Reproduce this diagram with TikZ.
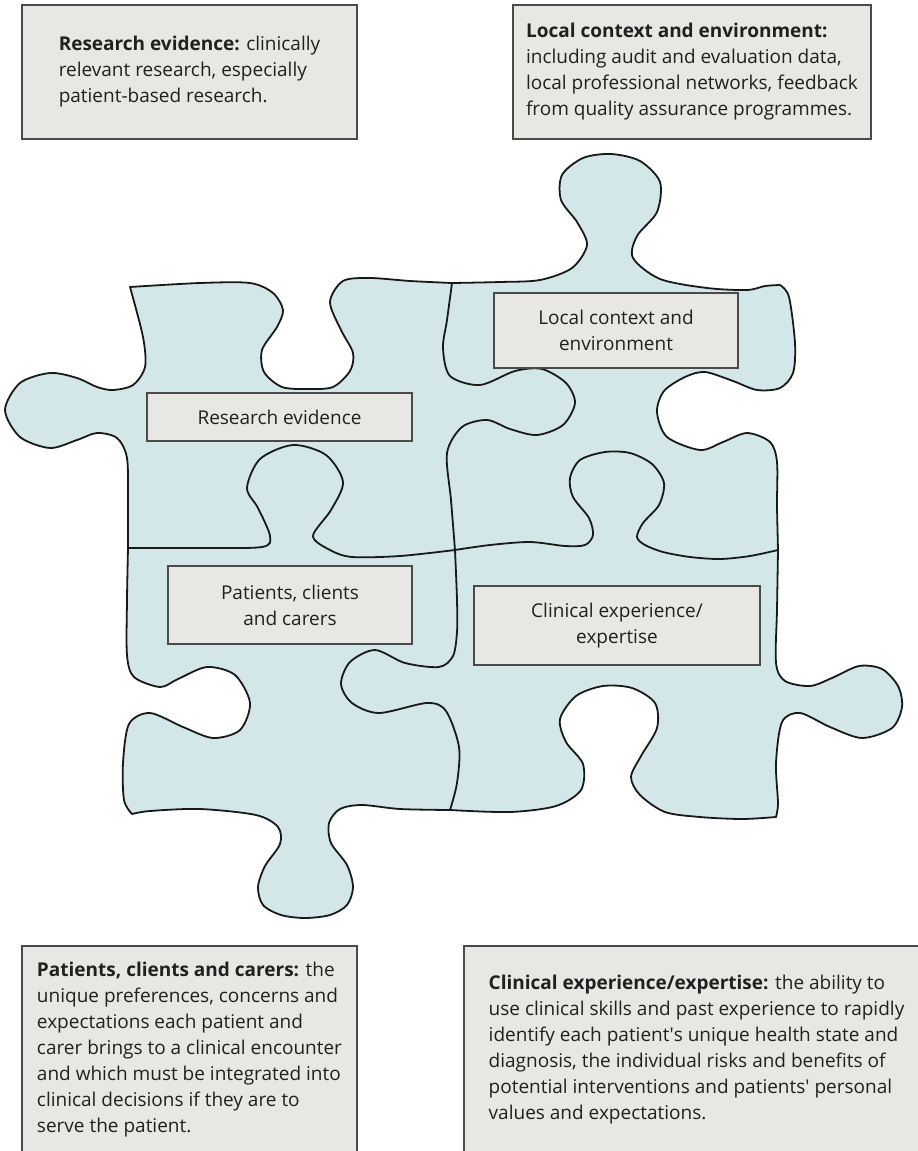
\documentclass[tikz,border=0pt]{standalone}
\usepackage{fontspec}
\setmainfont{Open Sans}
\usepackage{tikz}
\usetikzlibrary{positioning}

\definecolor{piecefill}{HTML}{D3E7E8}
\definecolor{boxfill}{HTML}{E7E8E4}
\definecolor{boxline}{HTML}{4A4A4A}
\definecolor{inktext}{HTML}{231F20}

\tikzset{
  piece/.style={fill=piecefill, draw=black!90, line width=1.8pt, line join=round},
  seam/.style={draw=black!90, line width=1.8pt, line cap=round},
  infobox/.style={draw=boxline, fill=boxfill, line width=1.3pt, align=left,
    text=inktext, inner sep=0pt, font=\fontsize{19}{26}\selectfont},
  tag/.style={draw=boxline, fill=boxfill, line width=1.3pt, align=center,
    text=inktext, inner sep=0pt, font=\fontsize{19}{26}\selectfont},
}

\begin{document}
\begin{tikzpicture}[x=1pt,y=-1pt]
\useasboundingbox (0,0) rectangle (918,1151);

% outline of the four pieces together
\filldraw[piece]
  plot[smooth] coordinates {(130,287) (200,283) (250,283) (273,293) (283,310) (277,327) (262,350) (264,372) (282,387) (308,389) (333,387) (350,371) (353,353) (341,330) (330,302) (343,281) (370,278) (410,281) (452,283)}
  -- plot[smooth] coordinates {(452,283) (500,282) (540,280) (572,268) (587,245) (577,222) (561,200) (562,175) (583,158) (611,154) (640,161) (660,182) (657,212) (637,236) (633,258) (660,279) (707,288) (747,290) (765,286) (780,285)}
  -- plot[smooth] coordinates {(780,285) (789,297) (795,343) (793,373) (780,388) (757,390) (733,381) (705,372) (685,377) (664,391) (657,412) (667,437) (700,450) (723,442) (747,433) (770,442) (777,462) (777,505) (778,550)}
  -- plot[smooth] coordinates {(778,550) (777,610) (776,663) (785,681) (810,686) (832,678) (859,666) (882,669) (898,686) (902,707) (892,728) (862,738) (830,727) (800,713) (782,722) (776,763) (778,803) (776,817)}
  -- plot[smooth] coordinates {(776,817) (742,819) (700,817) (665,812) (640,795) (631,777) (641,756) (657,728) (655,703) (632,688) (603,686) (576,696) (560,719) (566,742) (583,764) (581,790) (556,806) (510,812) (450,810)}
  -- plot[smooth] coordinates {(450,810) (400,809) (362,805) (340,809) (329,823) (331,843) (347,865) (353,887) (347,905) (330,915) (305,918) (281,915) (263,905) (258,887) (265,866) (280,844) (278,827) (256,815) (200,809) (150,811) (132,814)}
  -- plot[smooth] coordinates {(132,814) (124,800) (123,763) (129,724) (150,713) (183,727) (213,738) (240,730) (250,703) (235,675) (207,667) (178,679) (160,687) (134,677) (127,655) (127,600) (128,548)}
  -- plot[smooth] coordinates {(128,548) (128,503) (127,458) (117,438) (97,433) (77,440) (50,448) (20,437) (5,410) (20,383) (50,373) (77,378) (97,387) (113,390) (133,385) (145,367) (143,337) (130,287)}
  -- cycle;

% seams between the pieces
\draw[seam] plot[smooth] coordinates {(128,548) (200,548) (262,547) (270,536) (258,508) (247,488) (260,459) (293,445) (326,455) (343,482) (331,510) (313,536) (330,550) (352,557) (400,556) (455,550)};
\draw[seam] plot[smooth] coordinates {(452,283) (447,320) (443,348) (450,376) (480,385) (515,371) (542,369) (566,383) (575,403) (563,425) (537,435) (510,429) (487,420) (462,427) (447,453) (451,500) (455,550)};
\draw[seam] plot[smooth] coordinates {(455,550) (490,545) (530,542) (565,546) (585,545) (593,535) (589,518) (573,497) (570,478) (580,460) (605,452) (630,453) (652,464) (664,483) (659,505) (643,523) (637,537) (645,545) (663,552) (690,557) (720,559) (750,556) (778,550)};
\draw[seam] plot[smooth] coordinates {(455,550) (457,600) (457,632) (453,656) (439,667) (405,663) (375,650) (350,662) (341,684) (352,703) (379,713) (427,703) (446,711) (459,747) (457,783) (450,810)};

% labels on the pieces
\node[tag, minimum width=265pt, minimum height=48pt] (researchtag) at (279.5,417) {Research evidence};
\node[tag, minimum width=244pt, minimum height=75pt] (localtag) at (616,330.5) {Local context and\\environment};
\node[tag, minimum width=244pt, minimum height=78pt] (patienttag) at (290,605) {Patients, clients\\and carers};
\node[tag, minimum width=286pt, minimum height=79pt] (clinicaltag) at (617,625.5) {Clinical experience/\\expertise};

% explanation boxes
\node[infobox, minimum width=335pt, minimum height=134pt] (researchinfo) at (189.5,72)
  {\textbf{Research evidence:} clinically\\relevant research, especially\\patient-based research.};
\node[infobox, minimum width=358pt, minimum height=134pt] (localinfo) at (692,72)
  {\textbf{Local context and environment:}\\including audit and evaluation data,\\local professional networks, feedback\\from quality assurance programmes.};
\node[infobox, minimum width=335pt, minimum height=208pt] (patientinfo) at (189.5,1050)
  {\textbf{Patients, clients and carers:} the\\unique preferences, concerns and\\expectations each patient and\\carer brings to a clinical encounter\\and which must be integrated into\\clinical decisions if they are to\\serve the patient.};
\node[infobox, minimum width=465pt, minimum height=208pt] (clinicalinfo) at (696.5,1050)
  {\textbf{Clinical experience/expertise:} the ability to\\use clinical skills and past experience to rapidly\\identify each patient\textquotesingle s unique health state and\\diagnosis, the individual risks and benefits of\\potential interventions and patients\textquotesingle{} personal\\values and expectations.};
\end{tikzpicture}
\end{document}
